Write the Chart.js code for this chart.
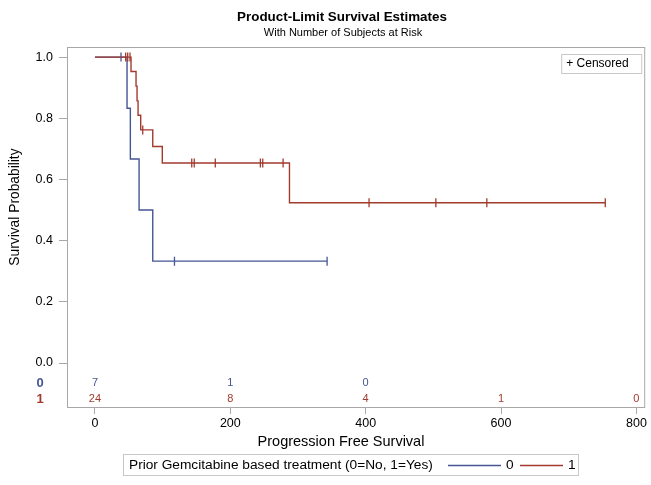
<!DOCTYPE html>
<html>
<head>
<meta charset="utf-8">
<script src="https://cdn.jsdelivr.net/npm/chart.js@4"></script>
<style>
  html, body { margin: 0; padding: 0; background: #fff; }
  #wrap { width: 651px; height: 485px; }
</style>
</head>
<body>
<div id="wrap"><canvas id="kmChart" width="651" height="485"></canvas></div>
<script>
// group 0 = no prior gemcitabine, group 1 = prior gemcitabine
const timesNo = [0, 47.4, 52.3, 65.2, 85.4, 343];
const survNo = [1, 0.833, 0.667, 0.5, 0.333, 0.333];
const censorTimesNo = [38.5, 117.5, 343];
const censorSurvNo = [1, 0.333, 0.333];

const timesYes = [0, 53.3, 60.7, 62.2, 63.7, 67.6, 85.4, 99.5, 287.4, 754];
const survYes = [1, 0.953, 0.905, 0.857, 0.810, 0.762, 0.708, 0.654, 0.524, 0.524];
const censorTimesYes = [45.4, 48.4, 51.8, 70.6, 143, 146.7, 177.8, 244.4, 247.9, 278, 405, 503.7, 579, 754];
const censorSurvYes = [1, 1, 1, 0.762, 0.654, 0.654, 0.654, 0.654, 0.654, 0.654, 0.524, 0.524, 0.524, 0.524];

const xTicks = [0, 200, 400, 600, 800];
const yTicks = [0, 0.2, 0.4, 0.6, 0.8, 1.0];
const atRiskNo = [7, 1, 0, null, null];
const atRiskYes = [24, 8, 4, 1, 0];

const COLOR_NO = '#445694';
const COLOR_YES = '#A23A2E';
const FONT = '"Liberation Sans", Arial, sans-serif';

const toPoints = function (xs, ys) {
    return xs.map(function (x, i) {
        return { x: x, y: ys[i] };
    });
}

const censorDataset = function (xs, ys, color) {
    return {
        data: toPoints(xs, ys),
        showLine: false,
        pointStyle: 'line',
        rotation: 90,
        radius: 4.5,
        hoverRadius: 4.5,
        borderColor: color,
        backgroundColor: color,
        borderWidth: 1.3
    }
}

const curveDataset = function (xs, ys, color) {
    return {
        data: toPoints(xs, ys),
        showLine: true,
        stepped: 'before',
        borderColor: color,
        borderWidth: 1.4,
        pointRadius: 0,
        fill: false
    }
}

const decorPlugin = {
    id: 'decor',
    afterDraw: function (chart) {
        const ctx = chart.ctx;
        const area = chart.chartArea;
        const xs = chart.scales.x;
        const ys = chart.scales.y;
        ctx.save();

        // frame
        ctx.strokeStyle = '#a8a8a8';
        ctx.lineWidth = 1;
        ctx.strokeRect(area.left + 0.5, area.top + 0.5, area.right - area.left - 1, area.bottom - area.top - 1);

        // titles
        ctx.fillStyle = '#000';
        ctx.textAlign = 'center';
        ctx.textBaseline = 'middle';
        ctx.font = 'bold 13.4px ' + FONT;
        ctx.fillText('Product-Limit Survival Estimates', 342, 17);
        ctx.font = '11px ' + FONT;
        ctx.fillText('With Number of Subjects at Risk', 343, 33);

        // axis titles
        ctx.font = '14.5px ' + FONT;
        ctx.fillText('Progression Free Survival', 341, 442);
        ctx.save();
        ctx.font = '13.8px ' + FONT;
        ctx.translate(15, ys.getPixelForValue(0.5) - 3);
        ctx.rotate(-Math.PI / 2);
        ctx.fillText('Survival Probability', 0, 0);
        ctx.restore();

        // censored legend
        ctx.strokeStyle = '#c8c8c8';
        ctx.strokeRect(area.right - 83.5, 54.5, 80, 19);
        ctx.font = '12px ' + FONT;
        ctx.textAlign = 'left';
        ctx.fillStyle = '#000';
        ctx.fillText('+ Censored', area.right - 79, 64);

        // number at risk
        const y0 = ys.getPixelForValue(0);
        const rowNo = y0 + 20;
        const rowYes = y0 + 36;
        ctx.textAlign = 'center';
        ctx.font = 'bold 13px ' + FONT;
        ctx.fillStyle = COLOR_NO;
        ctx.fillText('0', 40, rowNo);
        ctx.fillStyle = COLOR_YES;
        ctx.fillText('1', 40, rowYes);
        ctx.font = '11px ' + FONT;
        xTicks.forEach(function (t, i) {
            const px = xs.getPixelForValue(t);
            if (atRiskNo[i] !== null) {
                ctx.fillStyle = COLOR_NO;
                ctx.fillText(String(atRiskNo[i]), px, rowNo);
            }
            if (atRiskYes[i] !== null) {
                ctx.fillStyle = COLOR_YES;
                ctx.fillText(String(atRiskYes[i]), px, rowYes);
            }
        });

        // group legend
        ctx.strokeStyle = '#c8c8c8';
        ctx.strokeRect(123.5, 454.5, 455, 21);
        ctx.fillStyle = '#000';
        ctx.textAlign = 'left';
        ctx.font = '13.7px ' + FONT;
        ctx.fillText('Prior Gemcitabine based treatment (0=No, 1=Yes)', 129, 465);
        ctx.lineWidth = 1.3;
        ctx.strokeStyle = COLOR_NO;
        ctx.beginPath();
        ctx.moveTo(448, 465.5);
        ctx.lineTo(501, 465.5);
        ctx.stroke();
        ctx.fillText('0', 506, 465);
        ctx.strokeStyle = COLOR_YES;
        ctx.beginPath();
        ctx.moveTo(520, 465.5);
        ctx.lineTo(563, 465.5);
        ctx.stroke();
        ctx.fillText('1', 568, 465);

        ctx.restore();
    }
}

const kmChart = new Chart(document.getElementById('kmChart'), {
    type: 'scatter',
    data: {
        datasets: [
            curveDataset(timesYes, survYes, COLOR_YES),
            censorDataset(censorTimesYes, censorSurvYes, COLOR_YES),
            curveDataset(timesNo, survNo, COLOR_NO),
            censorDataset(censorTimesNo, censorSurvNo, COLOR_NO)
        ]
    },
    options: {
        responsive: false,
        animation: false,
        events: [],
        layout: { padding: { top: 47, right: 2, left: 0, bottom: 0 } },
        plugins: {
            legend: { display: false },
            title: { display: false },
            tooltip: { enabled: false }
        },
        scales: {
            x: {
                type: 'linear',
                min: -41.3,
                max: 813,
                afterBuildTicks: function (axis) {
                    axis.ticks = xTicks.map(function (v) { return { value: v }; });
                },
                afterFit: function (axis) {
                    axis.height = 77;
                    axis.paddingLeft = 0;
                    axis.paddingRight = 0;
                },
                grid: { drawOnChartArea: false, drawTicks: true, tickLength: 6, color: '#a8a8a8' },
                border: { display: false },
                ticks: {
                    color: '#000',
                    padding: 2,
                    maxRotation: 0,
                    font: { family: FONT, size: 12.5 }
                }
            },
            y: {
                type: 'linear',
                min: -0.147,
                max: 1.033,
                afterBuildTicks: function (axis) {
                    axis.ticks = yTicks.map(function (v) { return { value: v }; });
                },
                afterFit: function (axis) {
                    axis.width = 67;
                    axis.paddingTop = 0;
                    axis.paddingBottom = 0;
                },
                grid: { drawOnChartArea: false, drawTicks: true, tickLength: 8, color: '#a8a8a8' },
                border: { display: false },
                ticks: {
                    color: '#000',
                    padding: 6,
                    font: { family: FONT, size: 12.5 },
                    callback: function (v) { return v.toFixed(1); }
                }
            }
        }
    },
    plugins: [decorPlugin]
});
</script>
</body>
</html>
